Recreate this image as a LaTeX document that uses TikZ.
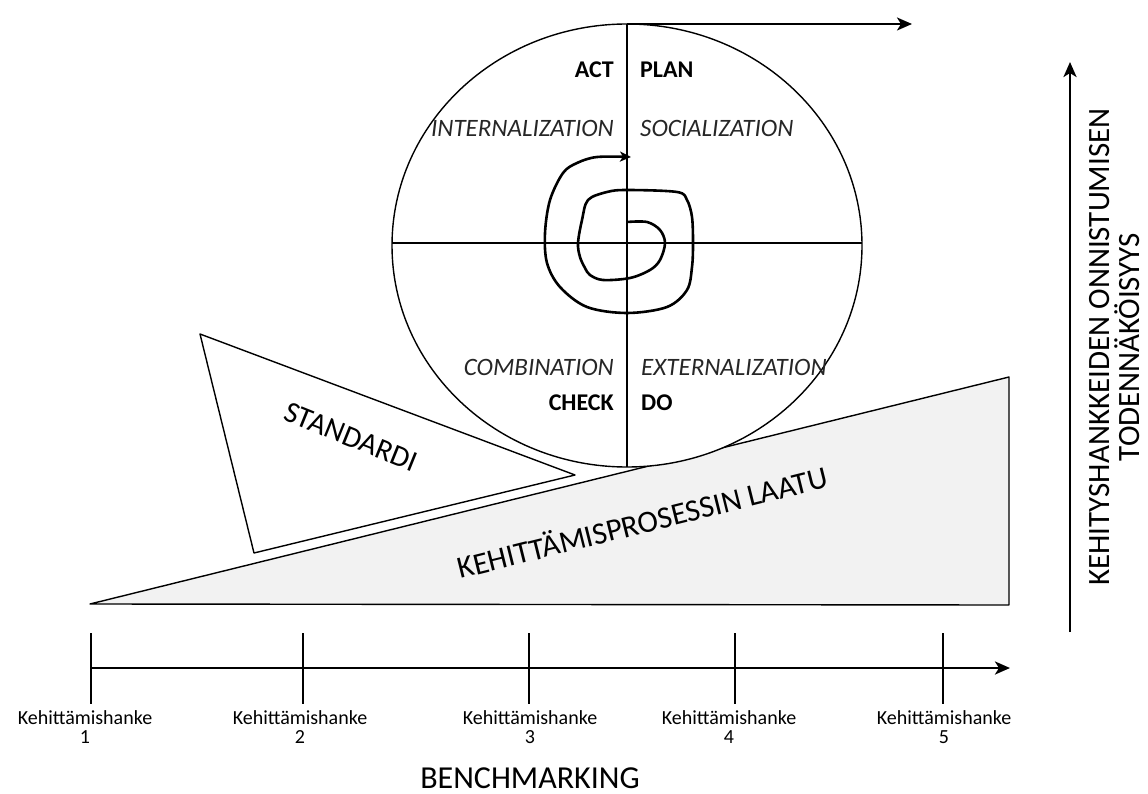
\documentclass[tikz,border=0pt]{standalone}
\usepackage{fontspec}
\setmainfont{Carlito}
\usetikzlibrary{arrows.meta}
\begin{document}
\begin{tikzpicture}[x=1pt,y=-1pt,
  thinline/.style={line width=1.4pt, line join=round},
  midline/.style={line width=2.2pt},
  axisline/.style={line width=2.8pt},
  bigtip/.style={-{Stealth[length=15pt,width=13pt,inset=4pt]}},
  smalltip/.style={-{Stealth[length=11pt,width=10pt,inset=3pt]}},
  phase/.style={font=\fontsize{24}{28}\selectfont\bfseries, inner sep=0pt},
  mode/.style={font=\fontsize{25}{30}\selectfont\itshape, inner sep=0pt, text=black!85},
  project/.style={font=\fontsize{20}{19}\selectfont, align=center, inner sep=0pt},
  big/.style={font=\fontsize{32}{33}\selectfont, inner sep=0pt},
]
\useasboundingbox (0,0) rectangle (1148,794);

% quality wedge and standard wedge
\coordinate (qa) at (90,604);
\coordinate (qb) at (1009,377);
\coordinate (qc) at (1009,605);
\draw[thinline, fill=black!5] (qa) -- (qb) -- (qc) -- cycle;
\coordinate (sa) at (200,334);
\coordinate (sb) at (254,553);
\coordinate (sc) at (575,475);
\draw[thinline, fill=white] (sa) -- (sb) -- (sc) -- cycle;

% PDCA / SECI wheel
\coordinate (c) at (627,245.5);
\coordinate (top) at (627,24);
\coordinate (bot) at (627,467);
\coordinate (lft) at (392,243);
\coordinate (rgt) at (862,243);
\draw[thinline, fill=white] (c) ellipse [x radius=235, y radius=221.5];
\draw[midline] (top) -- (bot);
\draw[midline] (lft) -- (rgt);
\coordinate (outtip) at (912,24);
\draw[midline, bigtip] (top) -- (outtip);

% spiral
\draw[line width=2.6pt, smalltip, line join=round]
  plot[smooth, tension=0.55] coordinates {
  (627,222) (647,222) (660,230) (665,243) (660,260) (650,270) (630,278)
  (603,280) (590,275) (585,268) (580,257) (578,243) (582,220) (588,200)
  (607,192) (627,190) (677,192) (687,200) (692,217) (693,243) (692,267)
  (687,290) (667,307) (627,313) (587,307) (560,287) (547,263) (545,233)
  (550,200) (563,173) (577,163) (597,157) (631,157)};

% quadrant labels
\node[phase, anchor=east] (act) at (614,70) {ACT};
\node[phase, anchor=west] (plan) at (640,70) {PLAN};
\node[mode, anchor=east] (int) at (614,128) {INTERNALIZATION};
\node[mode, anchor=west] (soc) at (640,128) {SOCIALIZATION};
\node[mode, anchor=east] (com) at (614,367) {COMBINATION};
\node[mode, anchor=west] (ext) at (641,367) {EXTERNALIZATION};
\node[phase, anchor=east] (check) at (614,403) {CHECK};
\node[phase, anchor=west] (do) at (641,403) {DO};

% wedge labels
\node[big, font=\fontsize{30}{30}\selectfont, rotate=-22] (std) at (351,437) {STANDARDI};
\node[big, font=\fontsize{31}{31}\selectfont, rotate=14] (qual) at (642,521) {KEHITTÄMISPROSESSIN LAATU};

% benchmarking axis
\coordinate (ax0) at (91,668);
\coordinate (ax1) at (1010,668);
\draw[axisline, bigtip] (ax0) -- (ax1);
\foreach \i/\x/\lx in {1/91/85, 2/303/300, 3/529/530, 4/735/729, 5/943/944} {
  \coordinate (t\i a) at (\x,633);
  \coordinate (t\i b) at (\x,704);
  \draw[axisline] (t\i a) -- (t\i b);
  \node[project] (p\i) at (\lx,727) {Kehittämishanke\\\i};
}
\node[big] (bench) at (530,778) {BENCHMARKING};

% probability axis
\coordinate (vy0) at (1070,632);
\coordinate (vy1) at (1070,62);
\draw[axisline, bigtip] (vy0) -- (vy1);
\node[big, font=\fontsize{31}{30}\selectfont, rotate=90, align=center] (prob) at (1115,347)
  {KEHITYSHANKKEIDEN ONNISTUMISEN\\TODENNÄKÖISYYS};
\end{tikzpicture}
\end{document}
